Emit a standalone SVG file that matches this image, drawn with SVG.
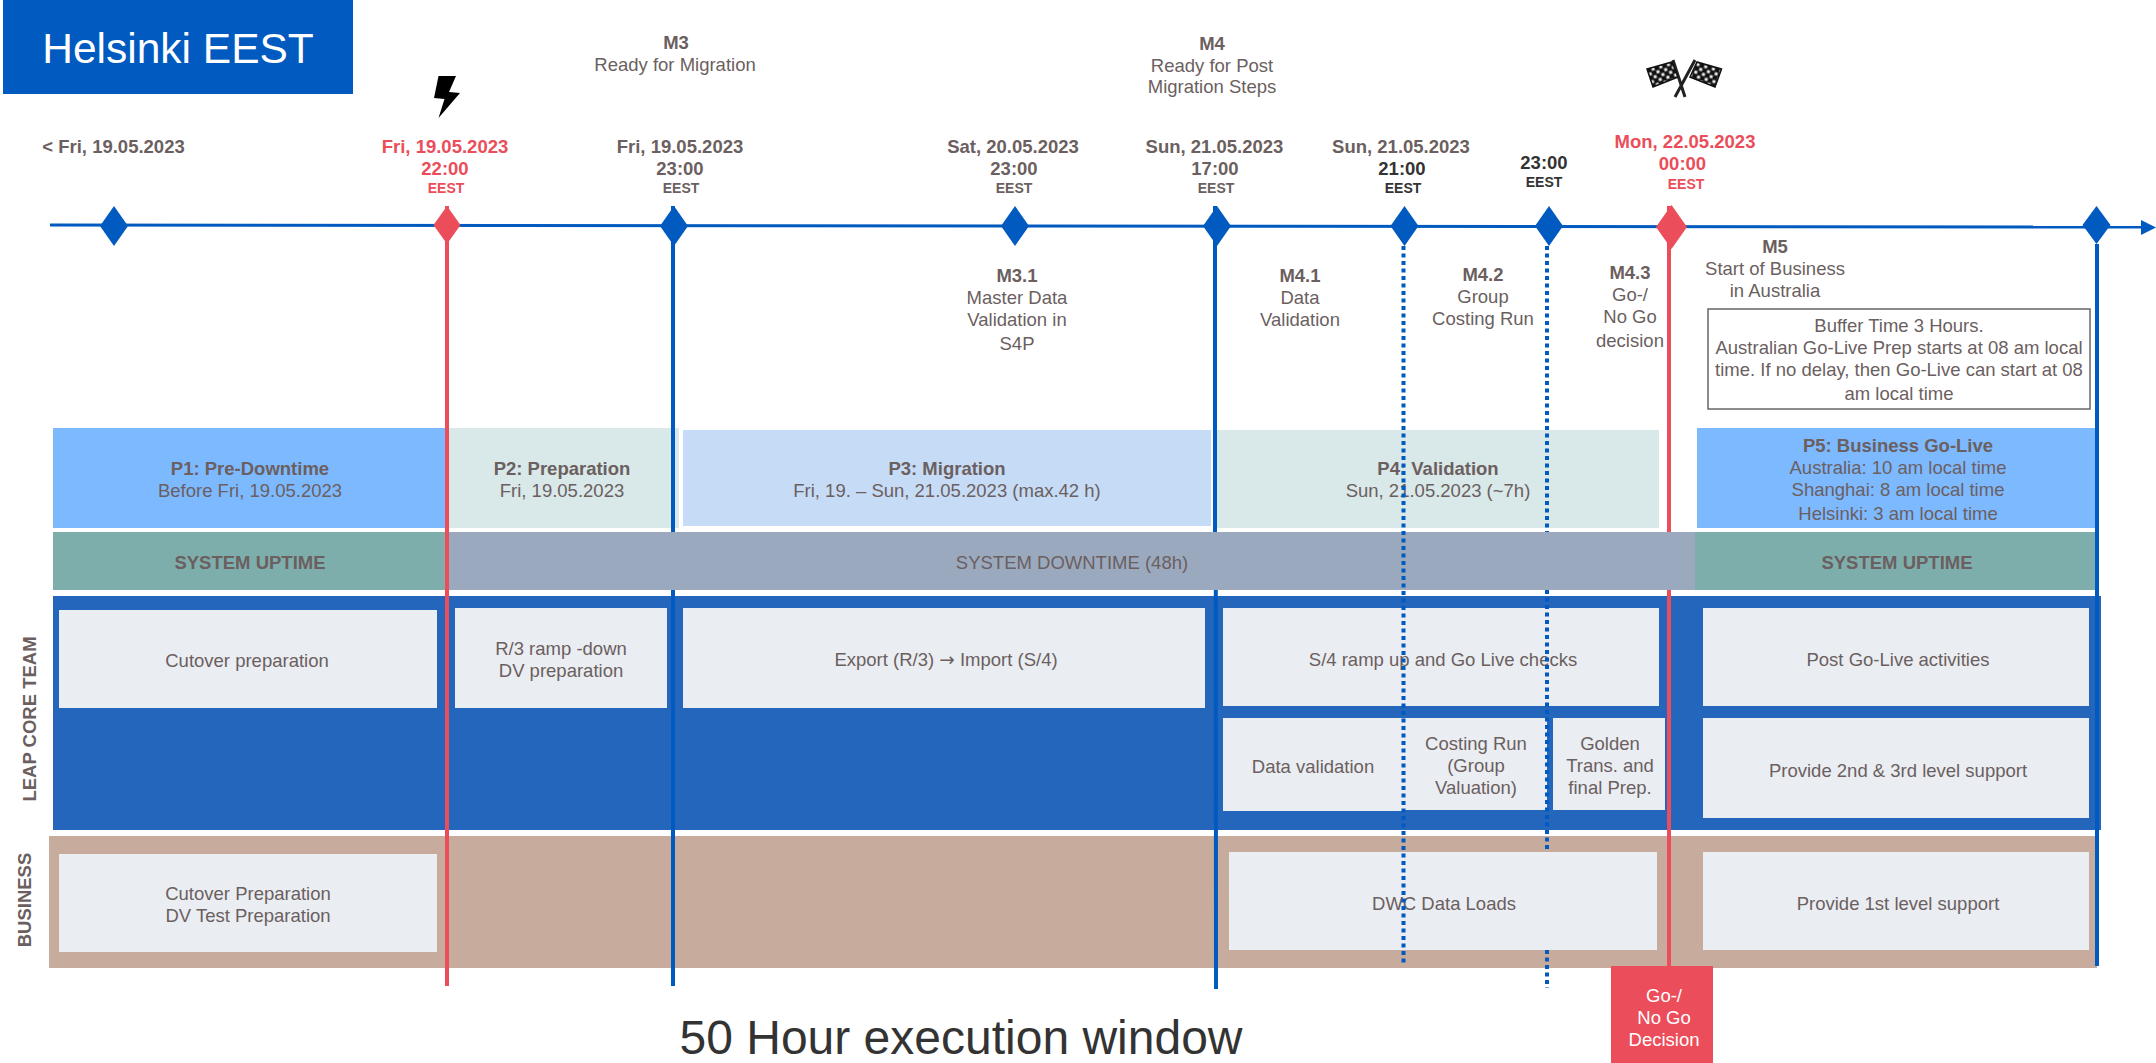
<svg xmlns="http://www.w3.org/2000/svg" width="2156" height="1063" viewBox="0 0 2156 1063">
<style>
text{font-family:"Liberation Sans",Arial,sans-serif;fill:#6b5f5f;font-size:18.5px;text-anchor:middle}
.b{font-weight:700}
.s{font-size:14px;font-weight:700}
.side{font-size:18.5px;font-weight:700}
.r{fill:#eb4d5a}
.k{fill:#333}
.w{fill:#fff}
.box{fill:#eaedf2}
.lb{fill:#7db9ff}
.lg{fill:#d9e8e8}
.up{fill:#7eaeac}
.blue{stroke:#005abf;stroke-width:4;fill:none}
.red{stroke:#eb4d5a;stroke-width:4;fill:none}
.dot{stroke:#005abf;stroke-width:4;stroke-dasharray:4 3.5;fill:none}
.db{fill:#005abf}
.dr{fill:#eb4d5a}
</style>
<defs>
<pattern id="chk" width="8" height="8" patternUnits="userSpaceOnUse" patternTransform="rotate(-16)"><rect width="8" height="8" fill="#111"/><rect x="0.500" y="0.500" width="3" height="3" fill="#eee"/><rect x="4.500" y="4.500" width="3" height="3" fill="#eee"/></pattern>
<pattern id="chk2" width="8" height="8" patternUnits="userSpaceOnUse" patternTransform="rotate(16)"><rect width="8" height="8" fill="#111"/><rect x="0.500" y="0.500" width="3" height="3" fill="#eee"/><rect x="4.500" y="4.500" width="3" height="3" fill="#eee"/></pattern>
</defs>
<g id="title"><rect x="3" y="0" width="350" height="94" fill="#005abf"/><text x="178" y="63" class="w" style="font-size:42.500px">Helsinki EEST</text></g>
<g id="p1"><rect x="53" y="428" width="394" height="100" class="lb"/><text x="250" y="475" class="b">P1: Pre-Downtime</text><text x="250" y="497">Before Fri, 19.05.2023</text></g>
<g id="p2"><rect x="447" y="428" width="232" height="100" class="lg"/><text x="562" y="475" class="b">P2: Preparation</text><text x="562" y="497">Fri, 19.05.2023</text></g>
<g id="p3"><rect x="683" y="430" width="528" height="96" fill="#c6dbf5"/><text x="947" y="475" class="b">P3: Migration</text><text x="947" y="497">Fri, 19. – Sun, 21.05.2023 (max.42 h)</text></g>
<g id="p4"><rect x="1217" y="430" width="442" height="98" class="lg"/><text x="1438" y="475" class="b">P4: Validation</text><text x="1438" y="497">Sun, 21.05.2023 (~7h)</text></g>
<g id="p5"><rect x="1697" y="428" width="398" height="100" class="lb"/><text x="1898" y="452" class="b">P5: Business Go-Live</text><text x="1898" y="474">Australia: 10 am local time</text><text x="1898" y="496">Shanghai: 8 am local time</text><text x="1898" y="520">Helsinki: 3 am local time</text></g>
<g id="lanes">
<rect x="53" y="596" width="2048" height="234" fill="#2366bc"/>
<rect x="49" y="836" width="2048" height="132" fill="#c7ab9c"/>
<text transform="translate(36 719) rotate(-90)" class="side">LEAP CORE TEAM</text>
<text transform="translate(31 900) rotate(-90)" class="side">BUSINESS</text>
</g>
<g id="system-row">
<rect x="53" y="532" width="394" height="58" class="up"/>
<rect x="447" y="532" width="1248" height="58" fill="#9ba9bf"/>
<rect x="1695" y="532" width="400" height="58" class="up"/>
<text x="250" y="569" class="b">SYSTEM UPTIME</text>
<text x="1072" y="569">SYSTEM DOWNTIME (48h)</text>
<text x="1897" y="569" class="b">SYSTEM UPTIME</text>
</g>
<g id="cutover-core"><rect x="59" y="610" width="378" height="98" class="box"/><text x="247" y="667">Cutover preparation</text></g>
<g id="rampdown"><rect x="455" y="608" width="212" height="100" class="box"/><text x="561" y="655">R/3 ramp -down</text><text x="561" y="677">DV preparation</text></g>
<g id="export"><rect x="683" y="608" width="522" height="100" class="box"/><text x="946" y="666">Export (R/3) <tspan style="font-family:'DejaVu Sans',sans-serif">→</tspan> Import (S/4)</text></g>
<g id="rampup"><rect x="1223" y="608" width="436" height="98" class="box"/><text x="1443" y="666">S/4 ramp up and Go Live checks</text></g>
<g id="datavalidation"><rect x="1223" y="718" width="181" height="93" class="box"/><text x="1313" y="773">Data validation</text></g>
<g id="costing"><rect x="1403" y="718" width="144" height="92" class="box"/><text x="1476" y="750">Costing Run</text><text x="1476" y="772">(Group</text><text x="1476" y="794">Valuation)</text></g>
<g id="golden"><rect x="1553" y="718" width="112" height="92" class="box"/><text x="1610" y="750">Golden</text><text x="1610" y="772">Trans. and</text><text x="1610" y="794">final Prep.</text></g>
<g id="postgolive"><rect x="1703" y="608" width="386" height="98" class="box"/><text x="1898" y="666">Post Go-Live activities</text></g>
<g id="support23"><rect x="1703" y="718" width="386" height="100" class="box"/><text x="1898" y="777">Provide 2nd &amp; 3rd level support</text></g>
<g id="cutover-business"><rect x="59" y="854" width="378" height="98" class="box"/><text x="248" y="900">Cutover Preparation</text><text x="248" y="922">DV Test Preparation</text></g>
<g id="dwc"><rect x="1229" y="852" width="428" height="98" class="box"/><text x="1444" y="910">DWC Data Loads</text></g>
<g id="support1"><rect x="1703" y="852" width="386" height="98" class="box"/><text x="1898" y="910">Provide 1st level support</text></g>
<g id="connectors">
<path class="blue" d="M673 206V532M673 590V986"/>
<path class="blue" d="M1215 206V532M1215.800 590L1216 989"/>
<path class="red" d="M1669 206V532M1669 590V966"/>
<path class="blue" d="M2097 244V966"/>
<path class="dot" d="M1547 246V532M1547 590V852M1547 950V988"/>
<path class="dot" d="M1403.500 246V965"/>
<path class="red" d="M447 206V986"/>
<path d="M50 225L2145 227" stroke="#005abf" stroke-width="3" fill="none"/>
<path class="db" d="M2141 220L2156 227.500L2141 235Z"/>
</g>
<g id="milestone-start"><path class="db" d="M114 206L128 226L114 246L100 226Z"/><text x="113.500" y="153" class="b">&lt; Fri, 19.05.2023</text></g>
<g id="milestone-downtime"><path class="dr" d="M447 206L460.500 225L447 244L433.500 225Z"/><path d="M438.500 76H456L449 92L460 93L438.500 118L444.500 99L434 98Z" fill="#000"/><text x="445" y="153" class="b r">Fri, 19.05.2023</text><text x="445" y="175" class="b r">22:00</text><text x="446" y="193" class="s r">EEST</text></g>
<g id="m3"><path class="db" d="M674 206L688 226L674 246L660 226Z"/><text x="676" y="49" class="b">M3</text><text x="675" y="71">Ready for Migration</text><text x="680" y="153" class="b">Fri, 19.05.2023</text><text x="680" y="175" class="b">23:00</text><text x="681" y="193" class="s">EEST</text></g>
<g id="m31"><path class="db" d="M1015 206L1029 226L1015 246L1001 226Z"/><text x="1013" y="153" class="b">Sat, 20.05.2023</text><text x="1014" y="175" class="b">23:00</text><text x="1014" y="193" class="s">EEST</text><text x="1017" y="282" class="b">M3.1</text><text x="1017" y="304">Master Data</text><text x="1017" y="326">Validation in</text><text x="1017" y="350">S4P</text></g>
<g id="m4"><path class="db" d="M1217 206L1231 226L1217 246L1203 226Z"/><text x="1212" y="50" class="b">M4</text><text x="1212" y="72">Ready for Post</text><text x="1212" y="93">Migration Steps</text><text x="1214.500" y="153" class="b">Sun, 21.05.2023</text><text x="1215" y="175" class="b">17:00</text><text x="1216" y="193" class="s">EEST</text></g>
<g id="m41"><path class="db" d="M1404.500 206L1418.500 226L1404.500 246L1390.500 226Z"/><text x="1401" y="153" class="b">Sun, 21.05.2023</text><text x="1402" y="175" class="b k">21:00</text><text x="1403" y="193" class="s k">EEST</text><text x="1300" y="282" class="b">M4.1</text><text x="1300" y="304">Data</text><text x="1300" y="326">Validation</text></g>
<g id="m42"><path class="db" d="M1549 206L1563 226L1549 246L1535 226Z"/><text x="1544" y="169" class="b k">23:00</text><text x="1544" y="187" class="s k">EEST</text><text x="1483" y="281" class="b">M4.2</text><text x="1483" y="303">Group</text><text x="1483" y="325">Costing Run</text></g>
<g id="m43"><path class="dr" d="M1671.500 205L1687 227L1671.500 249L1656 227Z"/>
<g id="flags"><path d="M1673 60L1685 97M1695 60L1675 97" stroke="#222" stroke-width="3" fill="none"/><path d="M1647 69L1672 62L1678 77L1653 87Z" fill="url(#chk)" stroke="#111" stroke-width="1.500"/><path d="M1721.500 69L1697 62L1690 77L1715 87Z" fill="url(#chk2)" stroke="#111" stroke-width="1.500"/></g>
<text x="1685" y="148" class="b r">Mon, 22.05.2023</text><text x="1682.500" y="170" class="b r">00:00</text><text x="1686" y="189" class="s r">EEST</text><text x="1630" y="279" class="b">M4.3</text><text x="1630" y="301">Go-/</text><text x="1630" y="323">No Go</text><text x="1630" y="347">decision</text></g>
<g id="m5"><path class="db" d="M2096.500 206L2110.500 225L2096.500 244L2082.500 225Z"/><text x="1775" y="253" class="b">M5</text><text x="1775" y="275">Start of Business</text><text x="1775" y="297">in Australia</text></g>
<g id="buffer"><rect x="1708" y="309" width="382" height="100" fill="#fff" stroke="#666" stroke-width="1.500"/><text x="1899" y="332">Buffer Time 3 Hours.</text><text x="1899" y="354">Australian Go-Live Prep starts at 08 am local</text><text x="1899" y="376">time. If no delay, then Go-Live can start at 08</text><text x="1899" y="400">am local time</text></g>
<g id="gonogo"><rect x="1611" y="966" width="102" height="97" fill="#eb4d5a"/><text x="1664" y="1002" class="w">Go-/</text><text x="1664" y="1024" class="w">No Go</text><text x="1664" y="1046" class="w">Decision</text></g>
<g id="caption"><text x="961" y="1054" class="k" style="font-size:48px">50 Hour execution window</text></g>
</svg>
